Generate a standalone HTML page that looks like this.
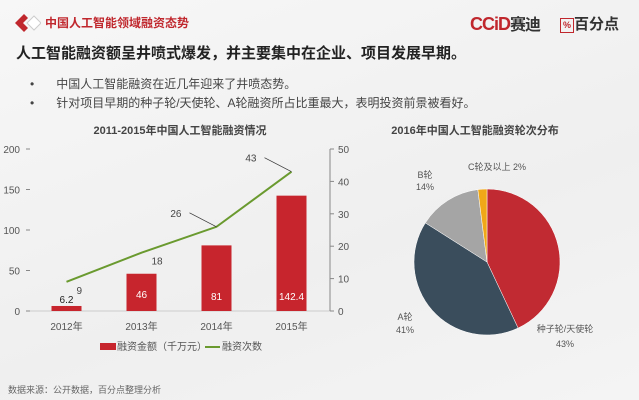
<!DOCTYPE html>
<html><head><meta charset="utf-8">
<style>
body{margin:0;width:639px;height:400px;overflow:hidden;background:linear-gradient(160deg,#f7f7f7 0%,#efefef 60%,#f4f4f4 100%);font-family:"Liberation Sans","Noto Sans CJK SC",sans-serif;position:relative;color:#333}
.abs{position:absolute;white-space:nowrap}
</style></head><body>
<div class="abs" style="left:15px;top:14px;width:24px;height:16px">
<svg width="26" height="18"><polygon points="0,9 9,0 13,4 8,9 13,14 9,18" fill="#c0272d"/><polygon points="12,9 19,2 26,9 19,16" fill="#fff" stroke="#ccc"/></svg></div>
<div class="abs" style="left:45px;top:14px;font-size:12px;font-weight:bold;color:#c0272d">中国人工智能领域融资态势</div>
<div class="abs" style="left:470px;top:11px;font-size:18px;font-weight:bold;color:#c0272d;letter-spacing:-1px">CCiD<span style="color:#333;font-size:16px">赛迪</span></div>
<div class="abs" style="left:560px;top:13px;font-size:15px;font-weight:bold;color:#333"><span style="display:inline-block;width:12px;height:13px;border:1px solid #c0272d;font-size:9px;color:#c0272d;text-align:center;line-height:13px;vertical-align:middle">%</span>百分点</div>
<div class="abs" style="left:16px;top:42px;font-size:15px;font-weight:bold;color:#222">人工智能融资额呈井喷式爆发，并主要集中在企业、项目发展早期。</div>
<div class="abs" style="left:30px;top:75px;font-size:12px;color:#444">•<span style="margin-left:22px">中国人工智能融资在近几年迎来了井喷态势。</span></div>
<div class="abs" style="left:30px;top:94px;font-size:12px;color:#444">•<span style="margin-left:22px">针对项目早期的种子轮/天使轮、A轮融资所占比重最大，表明投资前景被看好。</span></div>
<div class="abs" style="left:8px;top:383px;font-size:9px;color:#666">数据来源：公开数据，百分点整理分析</div>

<svg id="bar" class="abs" style="left:0;top:0" width="639" height="400"></svg>
<script>
const years=["2012年","2013年","2014年","2015年"];
const amounts=[6.2,46,81,142.4];
const counts=[9,18,26,43];
const leftTicks=[0,50,100,150,200];
const rightTicks=[0,10,20,30,40,50];
const pieLabels=["种子轮/天使轮","A轮","B轮","C轮及以上"];
const pieValues=[43,41,14,2];
const NS="http://www.w3.org/2000/svg";
const svg=document.getElementById('bar');
function mk(t,a,txt){const e=document.createElementNS(NS,t);for(const k in a)e.setAttribute(k,a[k]);if(txt!=null)e.textContent=txt;svg.appendChild(e);return e;}
const x0=30,x1=330,yb=311,yt=149;
const yL=v=>yb-(v/200)*(yb-yt);
const yR=v=>yb-(v/50)*(yb-yt);
const bw=(x1-x0)/years.length;
const xc=i=>x0+bw*(i+0.5)-1;
let e=mk('text',{x:180,y:134,'font-size':11,'font-weight':'bold','text-anchor':'middle',fill:'#444'},'2011-2015年中国人工智能融资情况');

e=mk('line',{x1:x0,y1:yb,x2:x1,y2:yb,stroke:'#ccc'});

e=mk('line',{x1:x1,y1:yt,x2:x1,y2:yb,stroke:'#888'});

leftTicks.forEach(v=>{const t=mk('text',{x:20,y:yL(v)+4,'font-size':10,'text-anchor':'end',fill:'#555'},v);

mk('line',{x1:26,y1:yL(v),x2:30,y2:yL(v),stroke:'#888'});});
rightTicks.forEach(v=>{mk('line',{x1:x1,y1:yR(v),x2:x1+4,y2:yR(v),stroke:'#888'});
const t=mk('text',{x:338,y:yR(v)+4,'font-size':10,fill:'#555'},v);
});
amounts.forEach((v,i)=>{const r=mk('rect',{x:xc(i)-15,y:yL(v),width:30,height:yb-yL(v),fill:'#c7252d'});

const t=mk('text',{x:xc(i),y:i==0?yL(v)-3:yb-13+(i>1?2:0),'font-size':10,'text-anchor':'middle',fill:i==0?'#222':'#fff'},v);

const l=mk('text',{x:xc(i),y:330,'font-size':10,'text-anchor':'middle',fill:'#555'},years[i]);
});
const pts=counts.map((v,i)=>[xc(i),yR(v)]);
e=mk('polyline',{points:pts.map(p=>p.join(',')).join(' '),fill:'none',stroke:'#6a9a2f','stroke-width':2});

counts.forEach((v,i)=>{const [px,py]=pts[i];let tx,ty;
if(i<2){tx=px+10;ty=py+12;}else{tx=px-35;ty=py-10;mk('line',{x1:tx+8,y1:ty-4,x2:px,y2:py,stroke:'#333','stroke-width':0.7});}
const t=mk('text',{x:tx,y:ty,'font-size':10,'text-anchor':i<2?'start':'end',fill:'#444'},v);
});
e=mk('rect',{x:100,y:343,width:16,height:7,fill:'#c7252d'});

e=mk('text',{x:117,y:350,'font-size':10,fill:'#555'},'融资金额（千万元）');

e=mk('line',{x1:205,y1:347,x2:220,y2:347,stroke:'#6a9a2f','stroke-width':2});

e=mk('text',{x:222,y:350,'font-size':10,fill:'#555'},'融资次数');

// pie
e=mk('text',{x:475,y:134,'font-size':11,'font-weight':'bold','text-anchor':'middle',fill:'#444'},'2016年中国人工智能融资轮次分布');

const cx=487,cy=262,R=73;const cols=['#c12a32','#3a4d5c','#a5a5a5','#f0a818'];
const tot=pieValues.reduce((a,b)=>a+b,0);let ang=0;
pieValues.forEach((v,i)=>{const a0=ang,a1=ang+v/tot*2*Math.PI;ang=a1;
const p=a=>[cx+R*Math.sin(a),cy-R*Math.cos(a)];const [sx,sy]=p(a0),[ex,ey]=p(a1);
const s=mk('path',{d:`M${cx},${cy}L${sx},${sy}A${R},${R} 0 ${a1-a0>Math.PI?1:0} 1 ${ex},${ey}Z`,fill:cols[i],stroke:'#fff','stroke-width':0.5});
});
const lab=[[565,332,565,347],[405,320,405,333],[425,178,425,190]];
lab.forEach((L,i)=>{const t=mk('text',{x:L[0],y:L[1],'font-size':9,'text-anchor':'middle',fill:'#555'},pieLabels[i]);

const p=mk('text',{x:L[2],y:L[3],'font-size':9,'text-anchor':'middle',fill:'#555'},pieValues[i]+'%');
});
e=mk('text',{x:497,y:170,'font-size':9,'text-anchor':'middle',fill:'#555'},pieLabels[3]+' '+pieValues[3]+'%');

</script>
</body></html>
